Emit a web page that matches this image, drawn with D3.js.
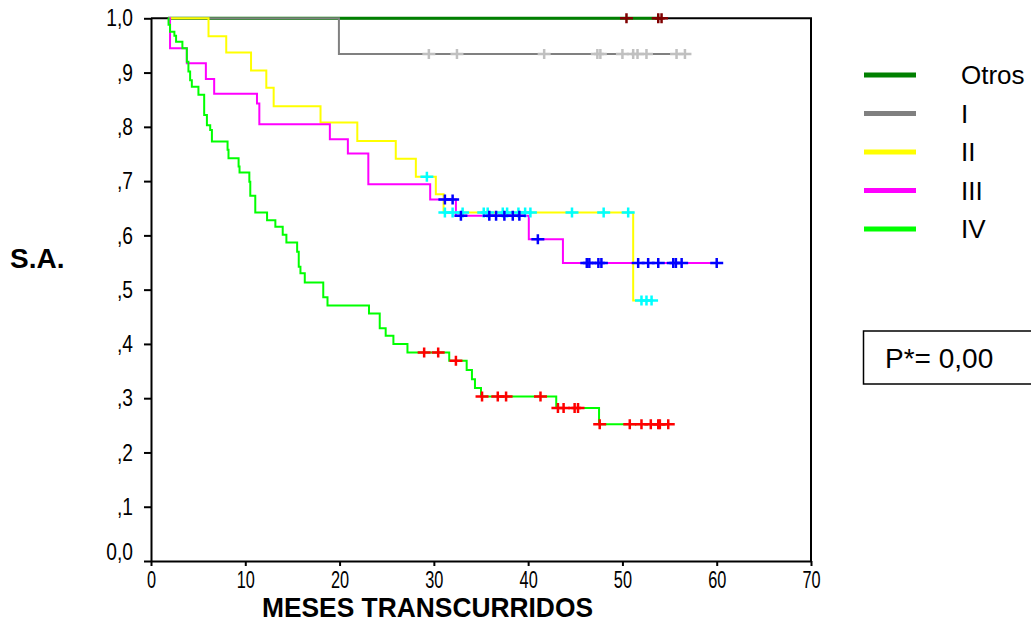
<!DOCTYPE html>
<html>
<head>
<meta charset="utf-8">
<script src="https://cdn.jsdelivr.net/npm/d3@7"></script>
<style>
  body { margin: 0; background: #fff; }
  svg { display: block; font-family: "Liberation Sans", Arial, sans-serif; }
</style>
</head>
<body>
<svg width="1031" height="623"></svg>
<script>
// ---- data (months, survival) ----
var startMonth = 1.8;

var groups = ["Otros", "I", "II", "III", "IV"];

var otrosEventT = [];
var otrosEventS = [];
var otrosCens = [50.43, 53.8, 54.15];

var iEventT = [19.93];
var iEventS = [0.934];
var iCens = [29.47, 32.45, 41.7, 47.34, 47.66, 50.0, 51.14, 51.6, 52.55, 55.74, 56.63];

var iiEventT = [6.1, 7.98, 10.61, 12.23, 13.01, 17.98, 21.88, 25.96, 28.09, 30.21, 31.03, 51.14];
var iiEventS = [0.967, 0.937, 0.904, 0.872, 0.838, 0.808, 0.774, 0.741, 0.708, 0.676, 0.642, 0.48];
var iiCens = [29.26, 31.17, 31.99, 33.05, 35.29, 35.71, 37.31, 37.77, 38.97, 39.68, 40.24, 44.65, 48.01, 50.61,
              52.02, 52.55, 53.09];

var iiiEventT = [2.02, 3.8, 5.82, 6.7, 11.24, 11.49, 18.97, 20.88, 23.05, 29.61, 32.34, 40.07, 43.69];
var iiiEventS = [0.945, 0.917, 0.888, 0.861, 0.843, 0.805, 0.777, 0.751, 0.694, 0.666, 0.636, 0.593, 0.549];
var iiiCens = [31.17, 31.99, 32.87, 35.88, 36.6, 37.48, 38.37, 39.07, 41.03, 46.22, 46.49, 47.45, 47.77,
               51.67, 52.73, 53.8, 55.39, 55.67, 56.28, 60.0];

var ivEventT = [1.86, 2.02, 2.48, 2.66, 3.33, 3.8, 3.97, 4.15, 4.33, 5.03, 5.64, 5.93, 6.28, 6.46, 8.12, 8.22,
                9.29, 9.39, 10.43, 10.53, 11.06, 12.31, 13.19, 13.97, 14.36, 15.5, 15.67, 15.85, 16.31, 18.27,
                18.72, 23.12, 24.26, 24.89, 25.71, 27.2, 31.63, 33.48, 34.04, 34.36, 35.0, 42.98, 47.52];
var ivEventS = [0.988, 0.975, 0.968, 0.957, 0.945, 0.92, 0.902, 0.886, 0.874, 0.859, 0.822, 0.803, 0.794, 0.773,
                0.758, 0.742, 0.727, 0.716, 0.699, 0.673, 0.642, 0.628, 0.616, 0.601, 0.587, 0.57, 0.542, 0.53,
                0.513, 0.486, 0.471, 0.456, 0.429, 0.415, 0.4, 0.384, 0.369, 0.352, 0.335, 0.319, 0.303, 0.282,
                0.252];
var ivCens = [28.97, 30.46, 32.34, 35.11, 36.78, 37.66, 41.31, 43.16, 43.76, 44.93, 45.29, 47.59, 50.78, 52.02,
              53.01, 53.8, 53.97, 54.86];

var xTicks = [0, 10, 20, 30, 40, 50, 60, 70];
var yTicks = [0, 0.1, 0.2, 0.3, 0.4, 0.5, 0.6, 0.7, 0.8, 0.9, 1.0];
var pText = "P*= 0,00";

// ---- styles ----
var lineColors = ["#008000", "#808080", "#ffff00", "#ff00ff", "#00ff00"];
var censColors = ["#800000", "#c0c0c0", "#00ffff", "#0000ff", "#ff0000"];

var series = [
  {t: otrosEventT, s: otrosEventS, c: otrosCens},
  {t: iEventT, s: iEventS, c: iCens},
  {t: iiEventT, s: iiEventS, c: iiCens},
  {t: iiiEventT, s: iiiEventS, c: iiiCens},
  {t: ivEventT, s: ivEventS, c: ivCens}
];

var svg = d3.select("svg");
var x = d3.scaleLinear().domain([0, 70]).range([151, 811]);
var y = d3.scaleLinear().domain([0, 1]).range([561, 18.3]);

// frame (top and right)
svg.append("path")
  .attr("d", "M" + x(0) + "," + y(1) + "H" + x(70) + "V" + y(0))
  .attr("fill", "none").attr("stroke", "#000").attr("stroke-width", 2);

// axes
var xAxis = svg.append("g")
  .attr("transform", "translate(0," + y(0) + ")")
  .call(d3.axisBottom(x).tickValues(xTicks).tickSize(5).tickSizeOuter(0).tickPadding(5));
xAxis.selectAll("text")
  .attr("font-size", 24).attr("font-family", "Liberation Sans, Arial")
  .attr("fill", "#000").attr("transform", "scale(0.68,1)");

var yAxis = svg.append("g")
  .attr("transform", "translate(" + x(0) + ",0)")
  .call(d3.axisLeft(y).tickValues(yTicks).tickSize(7).tickSizeOuter(0)
    .tickFormat(function(d) {
      if (d === 0) return "0,0";
      if (d === 1) return "1,0";
      return "," + Math.round(d * 10);
    }));
yAxis.selectAll("text")
  .attr("font-size", 24).attr("font-family", "Liberation Sans, Arial")
  .attr("fill", "#000").attr("x", -18 / 0.8).attr("transform", "scale(0.8,1)")
  .attr("dy", function(d) { return d === 0 ? "-0.05em" : "0.32em"; });
svg.selectAll(".domain").attr("stroke-width", 2);
svg.selectAll(".tick line").attr("stroke-width", 2);

// survival curves
var line = d3.line()
  .x(function(d) { return x(d[0]); })
  .y(function(d) { return y(d[1]); })
  .curve(d3.curveStepAfter);

function survAt(sr, t) {
  var i = d3.bisectRight(sr.t, t);
  return i === 0 ? 1 : sr.s[i - 1];
}

series.forEach(function(sr, k) {
  var pts = [[startMonth, 1]];
  sr.t.forEach(function(t, i) { pts.push([t, sr.s[i]]); });
  var end = Math.max(d3.max(sr.c) || 0, d3.max(sr.t) || 0);
  pts.push([end, survAt(sr, end)]);
  svg.append("path")
    .attr("d", line(pts))
    .attr("fill", "none")
    .attr("stroke", lineColors[k])
    .attr("stroke-width", k === 0 ? 3 : 2);
});

// censoring marks
series.forEach(function(sr, k) {
  svg.append("g").selectAll("path")
    .data(sr.c)
    .join("path")
    .attr("transform", function(t) { return "translate(" + x(t) + "," + y(survAt(sr, t)) + ")"; })
    .attr("d", "M-6.5,0H6.5M0,-5V5")
    .attr("stroke", censColors[k])
    .attr("stroke-width", 2.5);
});

// axis titles
svg.append("text")
  .attr("x", 10).attr("y", 268)
  .attr("font-size", 28).attr("font-weight", "bold")
  .text("S.A.");

svg.append("text")
  .attr("x", 262).attr("y", 617)
  .attr("font-size", 28).attr("font-weight", "bold")
  .attr("textLength", 331).attr("lengthAdjust", "spacingAndGlyphs")
  .text("MESES TRANSCURRIDOS");

// legend
var legend = svg.append("g");
groups.forEach(function(g, i) {
  var ly = 75 + i * 38.5;
  legend.append("line")
    .attr("x1", 864).attr("x2", 916).attr("y1", ly).attr("y2", ly)
    .attr("stroke", lineColors[i]).attr("stroke-width", 5);
  legend.append("text")
    .attr("x", 961).attr("y", ly).attr("dy", "0.35em")
    .attr("font-size", 26)
    .text(g);
});

// p-value box
svg.append("rect")
  .attr("x", 863.5).attr("y", 331).attr("width", 200).attr("height", 53)
  .attr("fill", "none").attr("stroke", "#000").attr("stroke-width", 1.5);
svg.append("text")
  .attr("x", 885).attr("y", 358).attr("dy", "0.35em")
  .attr("font-size", 28)
  .text(pText);
</script>
</body>
</html>
